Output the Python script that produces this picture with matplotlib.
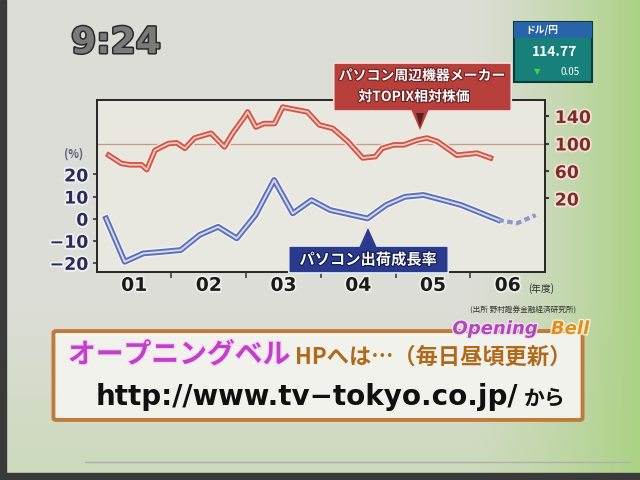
import numpy as np
import matplotlib
matplotlib.use('Agg')
import matplotlib.pyplot as plt
from matplotlib.patches import Rectangle, FancyBboxPatch, Polygon
import matplotlib.patheffects as pe

plt.rcParams['font.family'] = ['Noto Sans CJK JP', 'DejaVu Sans']
plt.rcParams['lines.scale_dashes'] = False

# ---------------- data ----------------
year_labels = ['01', '02', '03', '04', '05', '06']
year_start = 2001

# PC shipment growth rate (%), quarterly, FY2001 Q1 .. FY2006 Q4 (last 2 = forecast)
growth = [0.1, -19.5, -15.7, -15.0, -14.2, -7.4, -3.7, -8.9,
          1.6, 17.5, 2.4, 8.4, 3.9, 2.0, 0.1, 6.2,
          9.9, 10.7, 8.5, 6.2, 2.8, -0.6, -2.1, 1.6]
n_actual = 22

# PC peripheral makers relative share price vs TOPIX
rel_x = [2001.16, 2001.33, 2001.44, 2001.60, 2001.67, 2001.78, 2001.96, 2002.07,
         2002.18, 2002.31, 2002.53, 2002.71, 2002.82, 2002.98, 2003.02, 2003.13,
         2003.24, 2003.38, 2003.49, 2003.58, 2003.82, 2003.98, 2004.16, 2004.36,
         2004.56, 2004.73, 2004.82, 2004.98, 2005.11, 2005.29, 2005.42, 2005.56,
         2005.82, 2006.09, 2006.27]
rel_price = [83, 71, 69, 69, 62, 90, 100, 101,
             93, 108, 115, 95, 115, 139, 146, 124,
             129, 129, 153, 151, 146, 127, 122, 103,
             79, 81, 93, 98, 98, 105, 108, 103,
             83, 86, 79]

left_ticks = [-20, -10, 0, 10, 20]
right_ticks = [20, 60, 100, 140]

W, H = 640, 480
def fx(x): return x / W
def fy(y): return 1 - y / H

fig = plt.figure(figsize=(6.4, 4.8), dpi=100)

# ---------------- background ----------------
bg = fig.add_axes([0, 0, 1, 1], zorder=-10)
xx = np.linspace(0, 1, W)[None, :]
yy = np.linspace(0, 1, H)[:, None]
grey = np.array([0.87, 0.87, 0.85])
green = np.array([0.66, 0.82, 0.50])
sx = np.clip((xx - 0.72) / 0.28, 0, 1)
t = sx ** 1.3 * 0.95 + np.clip((yy - 0.62) / 0.4, 0, 1) * 0.35 * (1 - sx)
t = np.clip(t, 0, 1)
img = grey[None, None, :] * (1 - t[..., None]) + green[None, None, :] * t[..., None]
bg.imshow(img, extent=[0, W, H, 0], aspect='auto')
bg.set_xlim(0, W); bg.set_ylim(H, 0)
bg.axis('off')
bg.add_patch(Rectangle((0, 0), 6, H, color='#3a3a3a'))
bg.add_patch(Rectangle((0, 473), W, 7, color='#3a3a3a'))
bg.plot([85, 630], [462, 462], color='#b0b0a8', lw=1)

# ---------------- main chart ----------------
ax = fig.add_axes([fx(96.7), fy(271.7), fx(545) - fx(96.7), fy(100) - fy(271.7)])
ax.set_facecolor('#e9e8e0')
ax2 = ax.twinx()

ax.set_xlim(year_start, year_start + len(year_labels))
ax.set_ylim(-24.0, 53.7)
ax2.set_ylim(-86.5, 163.3)

gx = year_start + 0.125 + 0.25 * np.arange(len(growth))
glow = [pe.Stroke(linewidth=6, foreground='#f4f4fa'), pe.Normal()]
ax.plot(gx[:n_actual], growth[:n_actual], color='#5e70b6', lw=4.2,
        path_effects=glow, zorder=3)
ax.plot(gx[:n_actual], growth[:n_actual], color='#d4daf2', lw=1.4, zorder=4)
ax.plot(gx[n_actual - 1:], growth[n_actual - 1:], color='#8a98cc', lw=3.0,
        dashes=(4, 2.5), zorder=3)

ax2.axhline(100, color='#c89880', lw=0.9, zorder=1)
glow_r = [pe.Stroke(linewidth=6, foreground='#fbe4e0'), pe.Normal()]
ax2.plot(rel_x, rel_price, color='#c85a4c', lw=4.0, path_effects=glow_r, zorder=3)
ax2.plot(rel_x, rel_price, color='#f4c8bc', lw=1.3, zorder=4)

# x axis
ax.set_xticks(np.arange(year_start + 1, year_start + len(year_labels)))
ax.set_xticks(np.arange(len(year_labels)) + year_start + 0.5, minor=True)
ax.set_xticklabels([])
ax.set_xticklabels(year_labels, minor=True)
ax.tick_params(axis='x', which='major', length=4, width=1.2, color='#404040', direction='out')
ax.tick_params(axis='x', which='minor', length=0, pad=3, labelsize=13.5, labelcolor='#1a1a1a')
for lab in ax.get_xticklabels(minor=True):
    lab.set_fontweight('bold')
    lab.set_family(['DejaVu Sans'])
    lab.set_path_effects([pe.withStroke(linewidth=2.5, foreground='#f0f0ea')])

ax.set_yticks(left_ticks)
ax.set_yticklabels([str(v) if v >= 0 else '\u2212' + str(-v) for v in left_ticks])
ax.tick_params(axis='y', length=3, width=1.2, color='#303050', labelsize=12.5,
               labelcolor='#2a2c58', pad=3)
for lab in ax.get_yticklabels():
    lab.set_fontweight('bold')
    lab.set_family(['DejaVu Sans'])
    lab.set_path_effects([pe.withStroke(linewidth=2.5, foreground='#f2f2f6')])

ax2.set_yticks(right_ticks)
ax2.tick_params(axis='y', length=3, width=1.5, color='#503030', labelsize=12.5,
                labelcolor='#7a2e24', pad=4)
for lab in ax2.get_yticklabels():
    lab.set_fontweight('bold')
    lab.set_family(['DejaVu Sans'])
    lab.set_path_effects([pe.withStroke(linewidth=2.5, foreground='#f6e0dc')])

for a in (ax, ax2):
    for s in a.spines.values():
        s.set_color('#2a2a2a')
        s.set_linewidth(1.4)

fig.text(fx(74), fy(154), '(%)', fontsize=8, color='#5a5c7a', ha='center', va='center', fontweight='bold')
fig.text(fx(541), fy(289), '(年度)', fontsize=7, color='#303030', ha='center', va='center')

# ---------------- callouts ----------------
red_box = FancyBboxPatch((fx(335), fy(110)), fx(510) - fx(335), fy(64) - fy(110),
                         boxstyle='round,pad=0.002', transform=fig.transFigure,
                         facecolor='#b8403c', edgecolor='#f4e0dc', lw=1.2, zorder=10)
fig.add_artist(red_box)
fig.add_artist(Polygon([(fx(411), fy(109)), (fx(429), fy(109)), (fx(420), fy(130))],
                       closed=True, transform=fig.transFigure, facecolor='#b8403c',
                       edgecolor='none', zorder=10))
fig.add_artist(Polygon([(fx(416), fy(113)), (fx(424), fy(113)), (fx(420), fy(127))],
                       closed=True, transform=fig.transFigure, facecolor='#5a2020',
                       edgecolor='none', zorder=11))
txt_fx = [pe.withStroke(linewidth=1.5, foreground='#6a1c1c')]
fig.text(fx(422), fy(76), 'パソコン周辺機器メーカー', fontsize=10, color='white', fontweight='bold',
         ha='center', va='center', zorder=12, path_effects=txt_fx)
fig.text(fx(414), fy(97), '対TOPIX相対株価', fontsize=10, color='white', fontweight='bold',
         ha='center', va='center', zorder=12, path_effects=txt_fx)

blue_box = FancyBboxPatch((fx(290), fy(272)), fx(447) - fx(290), fy(247) - fy(272),
                          boxstyle='round,pad=0.002', transform=fig.transFigure,
                          facecolor='#2a3a8c', edgecolor='#e4e8f4', lw=1.2, zorder=10)
fig.add_artist(blue_box)
fig.add_artist(Polygon([(fx(359), fy(248)), (fx(377), fy(248)), (fx(368), fy(228))],
                       closed=True, transform=fig.transFigure, facecolor='#2a3a8c',
                       edgecolor='none', zorder=10))
fig.text(fx(368), fy(259.5), 'パソコン出荷成長率', fontsize=11, color='white', fontweight='bold',
         ha='center', va='center', zorder=12,
         path_effects=[pe.withStroke(linewidth=1.5, foreground='#101848')])

# ---------------- TV overlay elements ----------------
fig.text(fx(116), fy(43), '9:24', fontsize=26, color='#7a7a7a', fontweight='bold',
         family=['DejaVu Sans'], ha='center', va='center',
         path_effects=[pe.withStroke(linewidth=2.2, foreground='#2a2a2a')])

fig.add_artist(Rectangle((fx(514), fy(82)), fx(592) - fx(514), fy(22) - fy(82),
                         transform=fig.transFigure, facecolor='#17807a', edgecolor='#0a3a3a', lw=1.5, zorder=5))
fig.add_artist(Rectangle((fx(514), fy(38)), fx(592) - fx(514), fy(22) - fy(38),
                         transform=fig.transFigure, facecolor='#2a64a8', edgecolor='none', zorder=6))
fig.text(fx(542), fy(30), 'ドル/円', fontsize=7, color='white', fontweight='bold', ha='center', va='center', zorder=7)
fig.text(fx(555), fy(52), '114.77', fontsize=10, color='white', fontweight='bold', ha='center', va='center', zorder=7)
fig.text(fx(537), fy(72), '▼', fontsize=6, color='#46d23c', family=['DejaVu Sans'], ha='center', va='center', zorder=7)
fig.text(fx(570), fy(72), '0.05', fontsize=7, color='white', ha='center', va='center', zorder=7)

fig.text(fx(523), fy(311), '(出所 野村證券金融経済研究所)', fontsize=5.5, color='#303030',
         ha='center', va='center')
fig.text(fx(495), fy(329), 'Opening', fontsize=13, color='#b048b8', fontweight='bold', style='italic',
         family=['DejaVu Sans'], ha='center', va='center', zorder=8,
         path_effects=[pe.withStroke(linewidth=2, foreground='#f0e0f0')])
fig.text(fx(570), fy(329), 'Bell', fontsize=13, color='#e09020', fontweight='bold', style='italic',
         family=['DejaVu Sans'], ha='center', va='center', zorder=8,
         path_effects=[pe.withStroke(linewidth=2, foreground='#f8f0d8')])

box = FancyBboxPatch((fx(56), fy(418)), fx(580) - fx(56), fy(333) - fy(418),
                     boxstyle='round,pad=0.004', transform=fig.transFigure,
                     facecolor='#f2f2ec', edgecolor='#c07a3a', lw=2.8, zorder=5)
fig.add_artist(box)
fig.text(fx(68), fy(355), 'オープニングベル', fontsize=20, color='#c040c8', fontweight='bold',
         ha='left', va='center', zorder=7,
         path_effects=[pe.withStroke(linewidth=2, foreground='#f4d8f4')])
fig.text(fx(295), fy(357), 'HPへは…（毎日昼頃更新）', fontsize=16, color='#b06a1c', fontweight='bold',
         ha='left', va='center', zorder=7)
fig.text(fx(96), fy(397), 'http://www.tv\u2212tokyo.co.jp/', fontsize=20, color='#101010', fontweight='bold',
         family=['DejaVu Sans'], ha='left', va='center', zorder=7)
fig.text(fx(566), fy(398), 'から', fontsize=15, color='#101010', fontweight='bold',
         ha='right', va='center', zorder=7)

fig.savefig('out.png', dpi=100)
